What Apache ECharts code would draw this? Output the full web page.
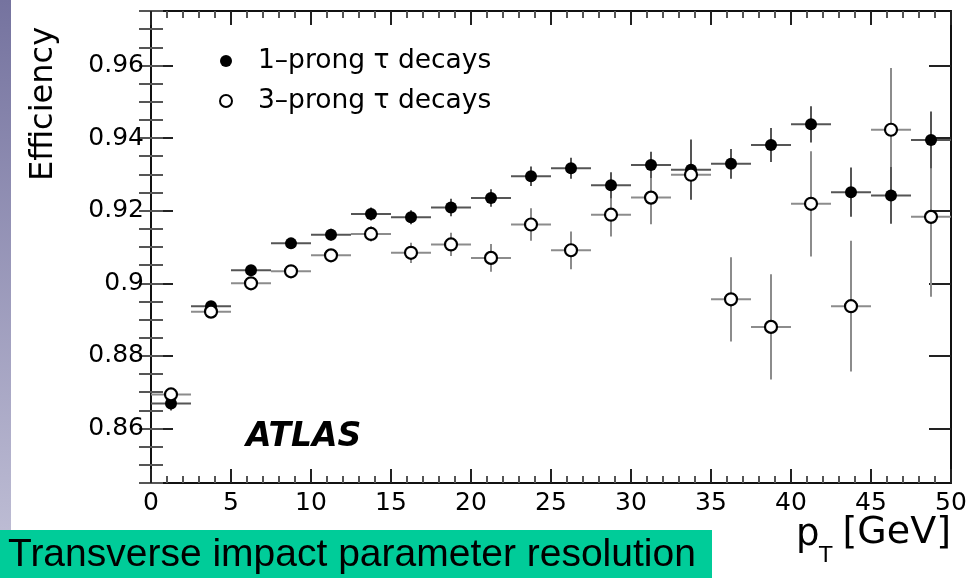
<!DOCTYPE html>
<html><head><meta charset="utf-8">
<script src="https://cdn.jsdelivr.net/npm/echarts@6/dist/echarts.min.js"></script>
<style>html,body{margin:0;padding:0;background:#fff;} #c{width:980px;height:578px;}</style>
</head><body><div id="c"></div>
<script>
// ---- data ----
const pT = [1.25, 3.75, 6.25, 8.75, 11.25, 13.75, 16.25, 18.75, 21.25, 23.75,
            26.25, 28.75, 31.25, 33.75, 36.25, 38.75, 41.25, 43.75, 46.25, 48.75];
const binHalfWidth = 1.25;
const eff1prong = [0.8669, 0.8937, 0.9036, 0.9110, 0.9134, 0.9191, 0.9182, 0.9209, 0.9235, 0.9295,
                   0.9317, 0.9270, 0.9326, 0.9313, 0.9329, 0.9381, 0.9438, 0.9251, 0.9242, 0.9395];
const err1prong = [0.0019, 0.0006, 0.0008, 0.0011, 0.0016, 0.0018, 0.0019, 0.0024, 0.0024, 0.0027,
                   0.0029, 0.0036, 0.0036, 0.0083, 0.0041, 0.0047, 0.0050, 0.0068, 0.0078, 0.0078];
const eff3prong = [0.8694, 0.8922, 0.9000, 0.9033, 0.9077, 0.9136, 0.9084, 0.9107, 0.9070, 0.9162,
                   0.9091, 0.9189, 0.9236, 0.9299, 0.8956, 0.8880, 0.9219, 0.8937, 0.9423, 0.9183];
const err3prong = [0.0011, 0.0005, 0.0009, 0.0012, 0.0016, 0.0021, 0.0028, 0.0032, 0.0038, 0.0045,
                   0.0052, 0.0060, 0.0073, 0.0065, 0.0116, 0.0145, 0.0145, 0.0180, 0.0170, 0.0220];
const yMajorTicks = [0.86, 0.88, 0.90, 0.92, 0.94, 0.96];
const yMin = 0.845, yMax = 0.975, yMinorStep = 0.005;
const xMin = 0, xMax = 50, xStep = 5;
const seriesNames = ['1\u2013prong \u03c4 decays', '3\u2013prong \u03c4 decays'];

// ---- chart ----
const FONT = 'DejaVu Sans';
const chart = echarts.init(document.getElementById('c'), null, {renderer: 'canvas'});

function errData(eff, err) { return pT.map((x, i) => [x, eff[i], err[i]]); }
function errRender(color) {
  return function (params, api) {
    const x = api.value(0), y = api.value(1), e = api.value(2);
    const l = api.coord([x - binHalfWidth, y]), r = api.coord([x + binHalfWidth, y]);
    const t = api.coord([x, y + e]), b = api.coord([x, y - e]);
    return {type: 'group', children: [
      {type: 'line', shape: {x1: l[0], y1: l[1], x2: r[0], y2: r[1]}, style: {stroke: color, lineWidth: 2}},
      {type: 'line', shape: {x1: t[0], y1: t[1], x2: b[0], y2: b[1]}, style: {stroke: color, lineWidth: 2}}
    ]};
  };
}

const lineStyle = {color: '#111', width: 2};
const majorTickStyle = {color: '#222', width: 2};
const minorTickStyle = {color: '#555', width: 2};

function xAxisDef(pos, labels) {
  return {
    type: 'value', min: xMin, max: xMax, interval: xStep, position: pos,
    axisLine: {show: true, onZero: false, lineStyle: lineStyle},
    axisTick: {show: true, inside: true, length: 14, lineStyle: majorTickStyle},
    minorTick: {show: true, splitNumber: 5, length: 7, lineStyle: minorTickStyle},
    axisLabel: {show: labels, fontFamily: FONT, fontSize: 25, color: '#000', margin: 8,
                showMinLabel: true, showMaxLabel: true},
    splitLine: {show: false}, minorSplitLine: {show: false}
  };
}
function yMajorDef(pos, labels) {
  return {
    type: 'value', min: yMin, max: yMax, position: pos,
    axisLine: {show: true, onZero: false, lineStyle: lineStyle},
    axisTick: {show: true, inside: true, length: 22, customValues: yMajorTicks, lineStyle: majorTickStyle},
    axisLabel: {show: labels, customValues: yMajorTicks, fontFamily: FONT, fontSize: 25, color: '#000', margin: 7,
                formatter: v => String(+(+v).toFixed(3))},
    splitLine: {show: false}
  };
}
function yMinorDef(pos) {
  return {
    type: 'value', min: yMin, max: yMax, interval: yMinorStep, position: pos,
    axisLine: {show: false},
    axisTick: {show: true, inside: true, length: 12, lineStyle: minorTickStyle},
    axisLabel: {show: false}, splitLine: {show: false}
  };
}

const option = {
  animation: false,
  backgroundColor: '#fff',
  grid: {left: 151, right: 29, top: 11, bottom: 95, containLabel: false},
  xAxis: [xAxisDef('bottom', true), xAxisDef('top', false)],
  yAxis: [yMajorDef('left', true), yMinorDef('left'), yMajorDef('right', false), yMinorDef('right')],
  legend: {
    data: seriesNames, selectedMode: false, orient: 'vertical',
    left: 214, top: 41, itemWidth: 12, itemHeight: 12, itemGap: 10,
    textStyle: {fontFamily: FONT, fontSize: 26.5, color: '#000', lineHeight: 30, padding: [0, 0, 0, 21]}
  },
  series: [
    {name: 'err3', type: 'custom', xAxisIndex: 0, yAxisIndex: 0, renderItem: errRender('#8c8c8c'),
     data: errData(eff3prong, err3prong), z: 2, silent: true},
    {name: 'err1', type: 'custom', xAxisIndex: 0, yAxisIndex: 0, renderItem: errRender('#555'),
     data: errData(eff1prong, err1prong), z: 3, silent: true},
    {name: seriesNames[0], type: 'scatter', xAxisIndex: 0, yAxisIndex: 0, symbol: 'circle', symbolSize: 12,
     itemStyle: {color: '#000', opacity: 1}, data: pT.map((x, i) => [x, eff1prong[i]]), z: 4},
    {name: seriesNames[1], type: 'scatter', xAxisIndex: 0, yAxisIndex: 0, symbol: 'circle', symbolSize: 12,
     itemStyle: {color: '#fff', borderColor: '#000', borderWidth: 2.2, opacity: 1}, data: pT.map((x, i) => [x, eff3prong[i]]), z: 5}
  ],
  graphic: [
    {type: 'rect', shape: {x: 0, y: 0, width: 11, height: 530},
     style: {fill: new echarts.graphic.LinearGradient(0, 0, 0, 1, [{offset: 0, color: '#75739f'}, {offset: 1, color: '#bcbbd3'}])}},
    {type: 'rect', shape: {x: 0, y: 530, width: 712, height: 48}, style: {fill: '#00cc99'}},
    {type: 'text', x: 8, y: 555, style: {text: 'Transverse impact parameter resolution', fontFamily: 'Liberation Sans',
      fontSize: 39, fill: '#000', align: 'left', verticalAlign: 'middle'}},
    {type: 'text', x: 44, y: 104, rotation: Math.PI / 2, style: {text: 'Efficiency', fontFamily: FONT,
      fontSize: 32, fill: '#000', align: 'center', verticalAlign: 'middle'}},
    {type: 'text', x: 246, y: 437, style: {text: 'ATLAS', fontFamily: FONT, fontWeight: 'bold', fontStyle: 'italic',
      fontSize: 33, fill: '#000', align: 'left', verticalAlign: 'middle'}},
    {type: 'text', x: 796, y: 535, style: {text: 'p', fontFamily: FONT, fontSize: 37, fill: '#000', align: 'left', verticalAlign: 'middle'}},
    {type: 'text', x: 819, y: 556, style: {text: 'T', fontFamily: FONT, fontSize: 22, fill: '#000', align: 'left', verticalAlign: 'middle'}},
    {type: 'text', x: 951, y: 533, style: {text: '[GeV]', fontFamily: FONT, fontSize: 38, fill: '#000', align: 'right', verticalAlign: 'middle'}}
  ]
};
chart.setOption(option);
</script>
</body></html>
